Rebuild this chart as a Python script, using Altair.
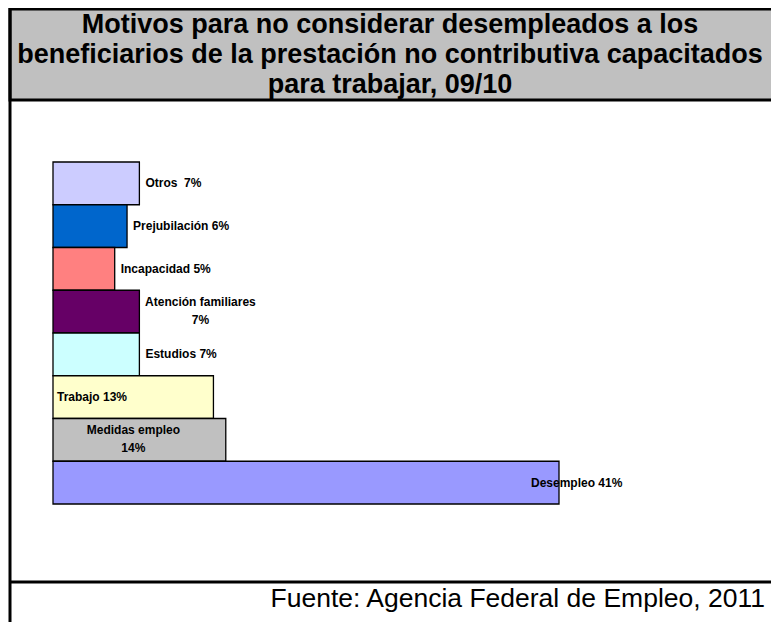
import altair as alt
import pandas as pd

# Data (top to bottom)
categories = ["Otros", "Prejubilación", "Incapacidad", "Atención familiares",
              "Estudios", "Trabajo", "Medidas empleo", "Desempleo"]
values = [7, 6, 5, 7, 7, 13, 14, 41]
labels = ["Otros\u00a0 7%", "Prejubilación 6%", "Incapacidad 5%",
          "Atención familiares\n7%", "Estudios 7%", "Trabajo 13%",
          "Medidas empleo\n14%", "Desempleo 41%"]
palette = ["#CCCCFF", "#0066CC", "#FF8080", "#660066",
           "#CCFFFF", "#FFFFCC", "#C0C0C0", "#9999FF"]

title_lines = ["Motivos para no considerar desempleados a los",
               "beneficiarios de la prestación no contributiva capacitados",
               "para trabajar, 09/10"]
source_text = "Fuente: Agencia Federal de Empleo, 2011"

FONT = "Liberation Sans"

df = pd.DataFrame({"cat": categories, "val": values, "label": labels})
df["mid"] = df["val"] / 2
df["zero"] = 0

xs = alt.Scale(domain=[0, 41], range=[45, 551])
ys = alt.Scale(domain=categories, range=[154, 496], paddingInner=0, paddingOuter=0)
cs = alt.Scale(domain=categories, range=palette)

one = pd.DataFrame({"k": [0]})

# decorations (frame, title box, footer line)
title_box = alt.Chart(one).mark_rect(fill="#C0C0C0", stroke="black", strokeWidth=3).encode(
    x=alt.value(2), x2=alt.value(800), y=alt.value(1), y2=alt.value(92))
left_line = alt.Chart(one).mark_rule(color="black", strokeWidth=3).encode(
    x=alt.value(2), y=alt.value(0), y2=alt.value(640))
footer_line = alt.Chart(one).mark_rule(color="black", strokeWidth=3).encode(
    x=alt.value(2), x2=alt.value(800), y=alt.value(574))

title = alt.Chart(one).mark_text(
    text="\n".join(title_lines), lineBreak="\n", lineHeight=30,
    font=FONT, fontSize=27, fontWeight="bold", align="center",
    baseline="alphabetic", color="black").encode(
    x=alt.value(382), y=alt.value(25))

source = alt.Chart(one).mark_text(
    text=source_text, font=FONT, fontSize=26.5, align="right",
    baseline="alphabetic", color="black").encode(
    x=alt.value(757), y=alt.value(599))

base = alt.Chart(df)

y_enc = alt.Y("cat:N", scale=ys, axis=None, sort=categories)

bars = base.mark_bar(stroke="black", strokeWidth=1.3, opacity=1).encode(
    x=alt.X("val:Q", scale=xs, axis=None),
    x2="zero:Q",
    y=y_enc,
    color=alt.Color("cat:N", scale=cs, legend=None),
)

txt_kw = dict(font=FONT, fontSize=12, fontWeight="bold", color="black",
              baseline="middle", lineBreak="\n", lineHeight=18)

lab_out = base.transform_filter(
    alt.FieldOneOfPredicate(field="cat", oneOf=["Otros", "Prejubilación", "Incapacidad", "Estudios"])
).mark_text(align="left", dx=6, **txt_kw).encode(
    x=alt.X("val:Q", scale=xs, axis=None), y=y_enc, text="label:N")

lab_aten = base.transform_filter(alt.datum.cat == "Atención familiares").mark_text(
    align="center", dx=61, dy=-10, **txt_kw).encode(
    x=alt.X("val:Q", scale=xs, axis=None), y=y_enc, text="label:N")

lab_trab = base.transform_filter(alt.datum.cat == "Trabajo").mark_text(
    align="left", dx=4, **txt_kw).encode(
    x=alt.X("zero:Q", scale=xs, axis=None), y=y_enc, text="label:N")

lab_med = base.transform_filter(alt.datum.cat == "Medidas empleo").mark_text(
    align="center", dx=-6, dy=-10, **txt_kw).encode(
    x=alt.X("mid:Q", scale=xs, axis=None), y=y_enc, text="label:N")

lab_des = base.transform_filter(alt.datum.cat == "Desempleo").mark_text(
    align="left", dx=-28, **txt_kw).encode(
    x=alt.X("val:Q", scale=xs, axis=None), y=y_enc, text="label:N")

chart = alt.layer(
    title_box, left_line, footer_line, title, source,
    bars, lab_out, lab_aten, lab_trab, lab_med, lab_des
).properties(
    width=763, height=614, padding=0,
    autosize=alt.AutoSizeParams(type="none"),
    background="white",
).configure_view(strokeWidth=0)

chart.save("out.html", embed_options={"renderer": "svg", "actions": False})
